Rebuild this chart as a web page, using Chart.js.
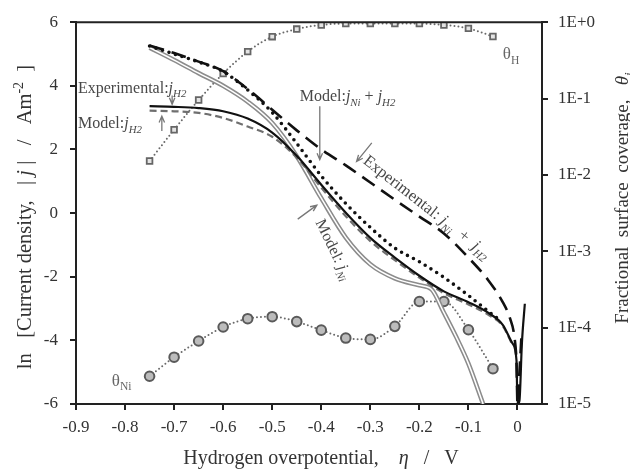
<!DOCTYPE html>
<html>
<head>
<meta charset="utf-8">
<script src="https://cdn.jsdelivr.net/npm/chart.js@4/dist/chart.umd.min.js"></script>
<style>
  body { margin: 0; background: #fff; }
  canvas { display: block; }
</style>
</head>
<body>
<canvas id="hydrogen-chart" width="630" height="472"></canvas>
<script>
/* Tick values */
let xTicks = [-0.9, -0.8, -0.7, -0.6, -0.5, -0.4, -0.3, -0.2, -0.1, 0]
let yTicks = [-6, -4, -2, 0, 2, 4, 6]
let coverageTicks = [1e-5, 1e-4, 1e-3, 1e-2, 1e-1, 1]

/* ln|j| curves, eta in V */
let expH2Eta = [-0.75, -0.70, -0.65, -0.60, -0.55, -0.50, -0.45, -0.40, -0.35, -0.30, -0.25, -0.20, -0.15, -0.10, -0.06, -0.03, -0.01, -0.002, 0, 0.004, 0.009, 0.015]
let expH2Ln = [3.36, 3.34, 3.30, 3.20, 2.97, 2.53, 1.80, 0.89, 0.01, -0.78, -1.40, -1.97, -2.46, -2.80, -3.13, -3.51, -4.10, -4.63, -6, -5.9, -4.10, -2.85]

let modelH2Eta = [-0.75, -0.70, -0.65, -0.60, -0.55, -0.50, -0.45, -0.40, -0.35, -0.30, -0.25, -0.20, -0.15, -0.10, -0.06, -0.03, -0.01]
let modelH2Ln = [3.22, 3.20, 3.15, 2.99, 2.72, 2.40, 1.74, 0.80, -0.10, -0.88, -1.48, -2.03, -2.52, -2.87, -3.19, -3.55, -4.15]

let modelNiEta = [-0.75, -0.70, -0.65, -0.60, -0.55, -0.50, -0.45, -0.40, -0.35, -0.30, -0.25, -0.20, -0.175, -0.15, -0.125, -0.10, -0.07]
let modelNiLn = [5.20, 4.81, 4.40, 4.00, 3.50, 2.83, 1.79, 0.47, -0.77, -1.61, -2.05, -2.27, -2.40, -3.13, -3.89, -4.73, -6.0]

let modelSumEta = [-0.75, -0.70, -0.65, -0.60, -0.55, -0.50, -0.45, -0.40, -0.35, -0.30, -0.25, -0.20, -0.15, -0.10, -0.06, -0.04]
let modelSumLn = [5.25, 5.00, 4.75, 4.45, 3.87, 3.16, 2.19, 1.17, 0.30, -0.45, -1.10, -1.53, -2.02, -2.59, -3.08, -3.32]

let expSumEta = [-0.75, -0.70, -0.65, -0.60, -0.55, -0.50, -0.45, -0.40, -0.35, -0.30, -0.25, -0.20, -0.15, -0.10, -0.06, -0.03, -0.015, -0.006, -0.002, 0, 0.004, 0.008]
let expSumLn = [5.27, 5.03, 4.76, 4.46, 3.90, 3.25, 2.60, 2.00, 1.50, 0.96, 0.42, -0.11, -0.64, -1.40, -2.10, -2.80, -3.32, -3.92, -4.70, -6, -5.0, -3.9]

/* surface coverages (right axis) */
let thetaEta = [-0.75, -0.70, -0.65, -0.60, -0.55, -0.50, -0.45, -0.40, -0.35, -0.30, -0.25, -0.20, -0.15, -0.10, -0.05]
let thetaH = [0.0152, 0.0391, 0.0957, 0.212, 0.412, 0.646, 0.813, 0.92, 0.96, 0.96, 0.96, 0.96, 0.92, 0.83, 0.65]
let thetaNi = [2.31e-5, 4.10e-5, 6.68e-5, 1.02e-4, 1.31e-4, 1.39e-4, 1.20e-4, 9.27e-5, 7.31e-5, 7.01e-5, 1.04e-4, 2.20e-4, 2.20e-4, 9.38e-5, 2.90e-5]

let serif = '"Liberation Serif", "Times New Roman", serif'

function pts(xs, ys) {
    return xs.map((x, i) => ({ x: x, y: ys[i] }))
}

/* rich text: parts are {t, it, sub, sup} */
function partFont(p, size) {
    let s = (p.sub || p.sup) ? size * 0.68 : size
    return (p.it ? 'italic ' : '') + s + 'px ' + serif
}

function richWidth(ctx, parts, size) {
    let w = 0
    parts.forEach(p => {
        ctx.font = partFont(p, size)
        w += ctx.measureText(p.t).width
    })
    return w
}

function drawRich(ctx, parts, size, x, y) {
    ctx.textBaseline = 'alphabetic'
    ctx.textAlign = 'left'
    parts.forEach(p => {
        ctx.font = partFont(p, size)
        let dy = p.sub ? size * 0.28 : (p.sup ? -size * 0.4 : 0)
        ctx.fillText(p.t, x, y + dy)
        x += ctx.measureText(p.t).width
    })
}

// labels placed in data units (eta, ln j)
let notes = [
    { parts: [{ t: 'Experimental:' }, { t: 'j', it: true }, { t: 'H2', it: true, sub: true }], x: -0.896, y: 3.79, size: 16, color: '#484848' },
    { parts: [{ t: 'Model:' }, { t: 'j', it: true }, { t: 'H2', it: true, sub: true }], x: -0.896, y: 2.67, size: 16, color: '#484848' },
    { parts: [{ t: 'Model:' }, { t: 'j', it: true }, { t: 'Ni', it: true, sub: true }, { t: ' + ' }, { t: 'j', it: true }, { t: 'H2', it: true, sub: true }], x: -0.444, y: 3.51, size: 16, color: '#484848' },
    { parts: [{ t: 'Experimental: ' }, { t: 'j', it: true }, { t: 'Ni', it: true, sub: true }, { t: '  +  ' }, { t: 'j', it: true }, { t: 'H2', it: true, sub: true }], x: -0.310, y: 1.72, size: 16.5, color: '#484848', angle: 38, middle: true },
    { parts: [{ t: 'Model: ' }, { t: 'j', it: true }, { t: 'Ni', it: true, sub: true }], x: -0.403, y: -0.22, size: 16, color: '#484848', angle: 64, middle: true },
    { parts: [{ t: 'θ' }, { t: 'H', sub: true }], x: -0.030, y: 4.85, size: 17, color: '#666' },
    { parts: [{ t: 'θ' }, { t: 'Ni', sub: true }], x: -0.827, y: -5.42, size: 17, color: '#666' }
]

let arrows = [
    { x1: -0.704, y1: 3.70, x2: -0.704, y2: 3.42 },
    { x1: -0.725, y1: 2.58, x2: -0.725, y2: 3.05 },
    { x1: -0.403, y1: 3.36, x2: -0.403, y2: 1.68 },
    { x1: -0.297, y1: 2.21, x2: -0.328, y2: 1.62 },
    { x1: -0.448, y1: -0.19, x2: -0.409, y2: 0.25 }
]

function drawArrow(ctx, ax, ay, bx, by) {
    let a = Math.atan2(by - ay, bx - ax)
    let h = 7
    ctx.beginPath()
    ctx.moveTo(ax, ay)
    ctx.lineTo(bx, by)
    ctx.moveTo(bx - h * Math.cos(a - 0.4), by - h * Math.sin(a - 0.4))
    ctx.lineTo(bx, by)
    ctx.lineTo(bx - h * Math.cos(a + 0.4), by - h * Math.sin(a + 0.4))
    ctx.stroke()
}

let decorPlugin = {
    id: 'decor',
    afterDraw(chart) {
        let ctx = chart.ctx
        let area = chart.chartArea
        let sx = chart.scales.x
        let sy = chart.scales.y
        ctx.save()

        // top frame line
        ctx.strokeStyle = '#222'
        ctx.lineWidth = 2
        ctx.beginPath()
        ctx.moveTo(area.left - 1, area.top)
        ctx.lineTo(area.right + 1, area.top)
        ctx.stroke()

        // arrows
        ctx.strokeStyle = '#777'
        ctx.lineWidth = 1.3
        arrows.forEach(a => {
            drawArrow(ctx, sx.getPixelForValue(a.x1), sy.getPixelForValue(a.y1), sx.getPixelForValue(a.x2), sy.getPixelForValue(a.y2))
        })

        // curve labels
        notes.forEach(n => {
            ctx.save()
            ctx.fillStyle = n.color
            ctx.translate(sx.getPixelForValue(n.x), sy.getPixelForValue(n.y))
            if (n.angle) ctx.rotate(n.angle * Math.PI / 180)
            drawRich(ctx, n.parts, n.size, 0, n.middle ? n.size * 0.32 : 0)
            ctx.restore()
        })

        // axis titles
        ctx.fillStyle = '#333'
        let bottomTitle = [{ t: 'Hydrogen overpotential,    ' }, { t: 'η', it: true }, { t: '   /   V' }]
        let leftTitle = [{ t: 'ln   [Current density,   | ' }, { t: 'j', it: true }, { t: ' |   /   Am' }, { t: '-2', sup: true }, { t: '  ]' }]
        let rightTitle = [{ t: 'Fractional  surface  coverage,   ' }, { t: 'θ', it: true }, { t: 'i', it: true, sub: true }]

        let w = richWidth(ctx, bottomTitle, 20)
        drawRich(ctx, bottomTitle, 20, 321 - w / 2, 464)

        ctx.save()
        ctx.translate(31, 217)
        ctx.rotate(-Math.PI / 2)
        w = richWidth(ctx, leftTitle, 20.5)
        drawRich(ctx, leftTitle, 20.5, -w / 2, 0)
        ctx.restore()

        ctx.save()
        ctx.translate(628, 198)
        ctx.rotate(-Math.PI / 2)
        w = richWidth(ctx, rightTitle, 19)
        drawRich(ctx, rightTitle, 19, -w / 2, 0)
        ctx.restore()

        ctx.restore()
    }
}

function lineSet(data, style) {
    return Object.assign({
        data: data,
        yAxisID: 'y',
        pointRadius: 0,
        fill: false,
        cubicInterpolationMode: 'monotone',
        borderColor: '#111',
        borderWidth: 2
    }, style)
}

let tickFont = { family: serif, size: 17 }

let ctx = document.querySelector('#hydrogen-chart').getContext('2d')

let hydrogenChart = new Chart(ctx, {
    type: 'line',
    data: {
        datasets: [
            // experimental total
            lineSet(pts(expSumEta, expSumLn), { borderWidth: 2.6, borderDash: [15, 8], order: 1 }),
            // model total
            lineSet(pts(modelSumEta, modelSumLn), { borderWidth: 3.6, borderDash: [0, 6.8], borderCapStyle: 'round', order: 2 }),
            // experimental j_H2
            lineSet(pts(expH2Eta, expH2Ln), { borderWidth: 2.2, order: 3 }),
            // model j_H2
            lineSet(pts(modelH2Eta, modelH2Ln), { borderColor: '#6f6f6f', borderWidth: 2.2, borderDash: [7, 4], order: 4 }),
            // model j_Ni: gray double line = wide gray + thin white core
            lineSet(pts(modelNiEta, modelNiLn), { borderColor: '#ffffff', borderWidth: 1.5, order: 5 }),
            lineSet(pts(modelNiEta, modelNiLn), { borderColor: '#8c8c8c', borderWidth: 4.6, order: 6 }),
            // coverages
            {
                data: pts(thetaEta, thetaH),
                yAxisID: 'y2',
                borderColor: '#6a6a6a',
                borderWidth: 2,
                borderDash: [0, 4],
                borderCapStyle: 'round',
                cubicInterpolationMode: 'monotone',
                pointStyle: 'rect',
                pointRadius: 4,
                pointBorderWidth: 1.8,
                pointBorderColor: '#666',
                pointBackgroundColor: '#e4e4e4',
                order: 7
            },
            {
                data: pts(thetaEta, thetaNi),
                yAxisID: 'y2',
                borderColor: '#6a6a6a',
                borderWidth: 2,
                borderDash: [0, 4],
                borderCapStyle: 'round',
                cubicInterpolationMode: 'monotone',
                pointStyle: 'circle',
                pointRadius: 4.8,
                pointBorderWidth: 2,
                pointBorderColor: '#5a5a5a',
                pointBackgroundColor: '#bcbcbc',
                order: 8
            }
        ]
    },
    options: {
        responsive: false,
        animation: false,
        devicePixelRatio: 1,
        layout: { padding: { top: 18, left: 0, right: 0, bottom: 0 } },
        plugins: { legend: { display: false }, tooltip: { enabled: false } },
        scales: {
            x: {
                type: 'linear',
                position: 'bottom',
                min: -0.9,
                max: 0.05,
                afterBuildTicks: s => { s.ticks = xTicks.map(v => ({ value: v })) },
                afterFit: s => { s.height = 68 },
                ticks: {
                    font: tickFont,
                    color: '#333',
                    padding: 7,
                    maxRotation: 0,
                    callback: v => String(Math.round(v * 10) / 10)
                },
                grid: { drawOnChartArea: false, tickLength: 6, color: '#222', lineWidth: 2 },
                border: { display: true, color: '#222', width: 2 }
            },
            y: {
                type: 'linear',
                position: 'left',
                min: -6,
                max: 6,
                afterBuildTicks: s => { s.ticks = yTicks.map(v => ({ value: v })) },
                afterFit: s => { s.width = 76 },
                ticks: { font: tickFont, color: '#333', padding: 12 },
                grid: { drawOnChartArea: false, tickLength: 6, color: '#222', lineWidth: 2 },
                border: { display: true, color: '#222', width: 2 }
            },
            y2: {
                type: 'logarithmic',
                position: 'right',
                min: 1e-5,
                max: 1,
                afterBuildTicks: s => { s.ticks = coverageTicks.map(v => ({ value: v })) },
                afterFit: s => { s.width = 88 },
                ticks: {
                    font: tickFont,
                    color: '#333',
                    padding: 10,
                    callback: v => {
                        let e = Math.round(Math.log10(v))
                        return '1E' + (e >= 0 ? '+' : '') + e
                    }
                },
                grid: { drawOnChartArea: false, tickLength: 6, color: '#222', lineWidth: 2 },
                border: { display: true, color: '#222', width: 2 }
            }
        }
    },
    plugins: [decorPlugin]
})
</script>
</body>
</html>
